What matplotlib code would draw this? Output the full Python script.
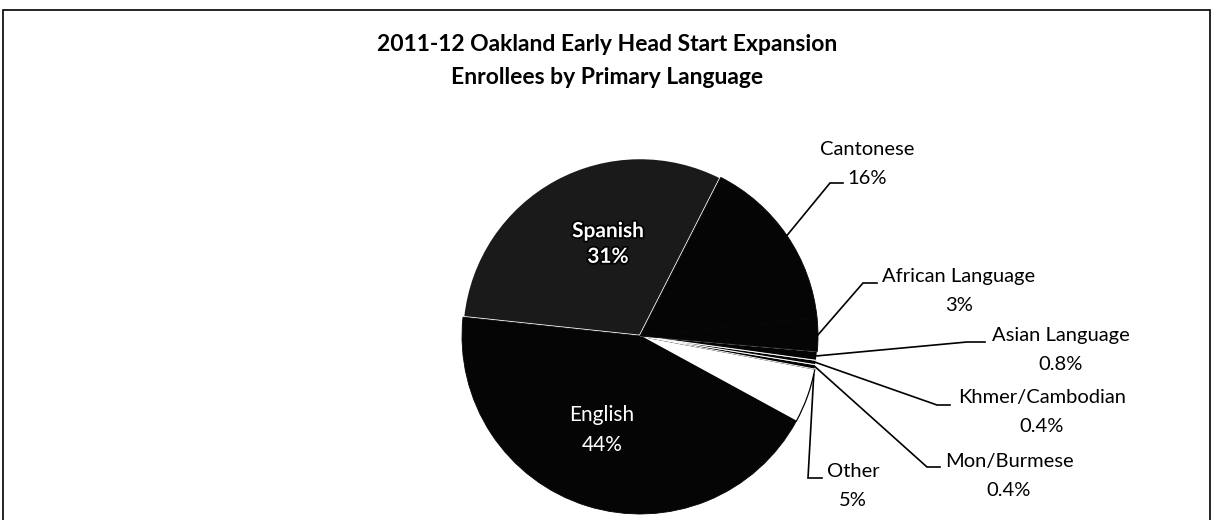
import numpy as np
import matplotlib
matplotlib.use('Agg')
import matplotlib.pyplot as plt
import matplotlib.patheffects as pe
from matplotlib.patches import Rectangle

plt.rcParams['font.family'] = ['Lato', 'DejaVu Sans']

# data (percent of enrollees)
languages = ['Spanish', 'English', 'Other', 'Mon/Burmese', 'Khmer/Cambodian',
             'Asian Language', 'African Language', 'Cantonese']
shares = [31, 44, 5, 0.4, 0.4, 0.8, 3, 16]
share_labels = ['31%', '44%', '5%', '0.4%', '0.4%', '0.8%', '3%', '16%']
colors = ['#1a1a1a', '#050505', '#ffffff', '#050505', '#050505',
          '#050505', '#050505', '#050505']

W, H = 1213, 520
fig = plt.figure(figsize=(W / 100, H / 100), dpi=100)
ax = fig.add_axes([0, 0, 1, 1])

# frame round the chart
fig.patches.append(Rectangle((3 / W, -0.05), (W - 6) / W, (H - 10) / H + 0.05,
                             transform=fig.transFigure, fill=False,
                             ec='black', lw=1.2))

cx, cy, r = 640, H - 336, 178
wedges, _ = ax.pie(shares, colors=colors, startangle=63, counterclock=True,
                   center=(cx, cy), radius=r, frame=True)
ax.set_xlim(0, W)
ax.set_ylim(0, H)
ax.set_aspect('equal')
ax.axis('off')

# hide seams between the dark slices
for w, c in zip(wedges, colors):
    w.set_edgecolor(c)
    w.set_linewidth(0.6)

# separators as in the original
wedges[0].set_edgecolor('white')
wedges[0].set_linewidth(1.8)
for k in (3, 4, 5):
    wedges[k].set_edgecolor('white')
    wedges[k].set_linewidth(0.7)
wedges[2].set_edgecolor('black')
wedges[2].set_linewidth(0.9)

title = '2011-12 Oakland Early Head Start Expansion\nEnrollees by Primary Language'
ax.text(607, H - 61, title, ha='center', va='center', fontsize=16.5,
        fontweight='bold', linespacing=1.65)

# inside labels
ax.text(608, H - 244, 'Spanish\n' + share_labels[0], ha='center', va='center',
        fontsize=15, fontweight='bold', color='white', linespacing=1.35,
        path_effects=[pe.withStroke(linewidth=2.5, foreground='black')])
ax.text(602, H - 430, 'English\n' + share_labels[1], ha='center', va='center',
        fontsize=15, color='white', linespacing=1.6)

# outside labels: text centre, elbow, end of leader (pixel layout)
layout = {
    'Cantonese': ((867, 164), (830, 183), (843, 183), 0.5),
    'African Language': ((959, 291), (863, 283), (877, 283), 0.5),
    'Asian Language': ((1061, 350), (967, 342), (985, 342), 0.5),
    'Khmer/Cambodian': ((1042, 412), (937, 405), (950, 405), 0.5),
    'Mon/Burmese': ((1009, 476), (927, 467), (940, 467), 0.5),
    'Other': ((853, 486), (808, 478), (822, 478), 0.9),
}
for i, name in enumerate(languages):
    if name not in layout:
        continue
    (tx, ty), (ex, ey), (sx, sy), frac = layout[name]
    w = wedges[i]
    ang = np.deg2rad(w.theta1 + frac * (w.theta2 - w.theta1))
    axp, ayp = cx + r * np.cos(ang), cy + r * np.sin(ang)
    ax.plot([axp, ex, sx], [ayp, H - ey, H - sy], color='black', lw=1.2,
            solid_joinstyle='miter')
    ax.text(tx, H - ty, name + '\n' + share_labels[i], ha='center',
            va='center', fontsize=14.5, linespacing=1.85)

fig.savefig('out.png', dpi=100)
